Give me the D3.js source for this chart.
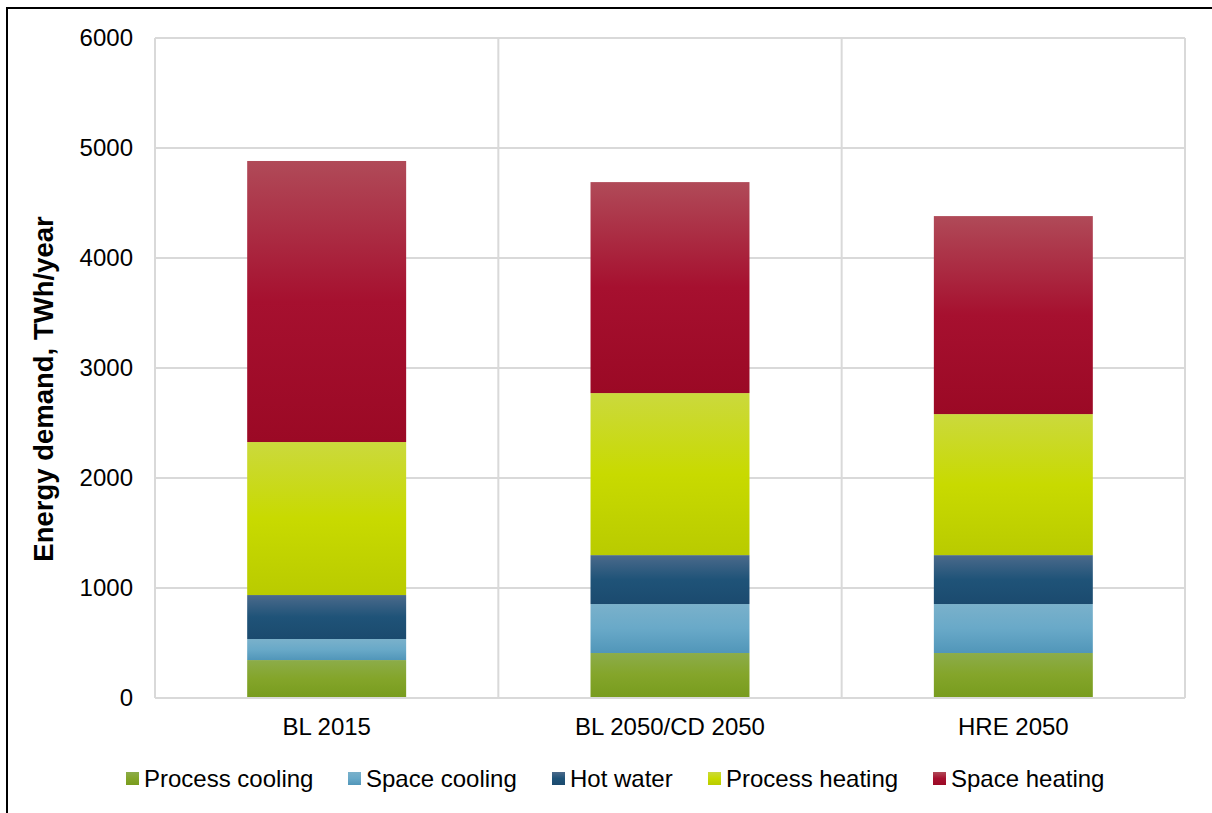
<!DOCTYPE html>
<html>
<head>
<meta charset="utf-8">
<script src="https://cdn.jsdelivr.net/npm/d3@7"></script>
<style>
html,body{margin:0;padding:0;background:#fff;}
svg{display:block;font-family:"Liberation Sans",Arial,sans-serif;}
</style>
</head>
<body>
<svg id="chart" width="1212" height="813"></svg>
<script>
const categories = ["BL 2015", "BL 2050/CD 2050", "HRE 2050"];
const seriesNames = ["Process cooling", "Space cooling", "Hot water", "Process heating", "Space heating"];
const processCooling = [345, 409, 409];
const spaceCooling   = [191, 445, 445];
const hotWater       = [400, 445, 445];
const processHeating = [1391, 1473, 1282];
const spaceHeating   = [2555, 1918, 1800];
const yTicks = [0, 1000, 2000, 3000, 4000, 5000, 6000];
const yTitle = "Energy demand, TWh/year";

const gradStops = [
  ["#8cac4a", "#84a52a", "#789c1e"],
  ["#7ab1cb", "#69a9c8", "#5196b9"],
  ["#4b6a8b", "#1f5378", "#1b4a6e"],
  ["#cbd93d", "#c8da00", "#b9cb00"],
  ["#b04a58", "#a6102f", "#9b0925"]
];

(function () {
const seriesValues = [processCooling, spaceCooling, hotWater, processHeating, spaceHeating];
const rows = categories.map((c, i) => {
  const r = {cat: c};
  seriesNames.forEach((s, j) => r[s] = seriesValues[j][i]);
  return r;
});

const svg = d3.select("#chart");
const pLeft = 155, pRight = 1185, pTop = 38, pBottom = 698;

// outer frame
svg.append("rect").attr("x", 7).attr("y", 8).attr("width", 1230).attr("height", 830)
  .attr("fill", "none").attr("stroke", "#000").attr("stroke-width", 2);

const defs = svg.append("defs");
gradStops.forEach((g, i) => {
  const lg = defs.append("linearGradient").attr("id", "g" + i)
    .attr("x1", 0).attr("y1", 0).attr("x2", 0).attr("y2", 1);
  lg.append("stop").attr("offset", "0%").attr("stop-color", g[0]);
  lg.append("stop").attr("offset", "50%").attr("stop-color", g[1]);
  lg.append("stop").attr("offset", "100%").attr("stop-color", g[2]);
});

const x = d3.scaleBand().domain(categories).range([pLeft, pRight]).paddingInner(0.537).paddingOuter(0.2685);
const y = d3.scaleLinear().domain([0, 6000]).range([pBottom, pTop]);

// gridlines
svg.append("g").selectAll("line").data(yTicks).join("line")
  .attr("x1", pLeft).attr("x2", pRight)
  .attr("y1", d => y(d)).attr("y2", d => y(d))
  .attr("stroke", "#d9d9d9").attr("stroke-width", 2);
const step = x.step();
const vlines = [0, 1, 2, 3].map(i => pLeft + i * step);
svg.append("g").selectAll("line").data(vlines).join("line")
  .attr("x1", d => d).attr("x2", d => d)
  .attr("y1", pTop).attr("y2", pBottom)
  .attr("stroke", "#d9d9d9").attr("stroke-width", 2);

// bars
const stack = d3.stack().keys(seriesNames)(rows);
svg.append("g").selectAll("g").data(stack).join("g")
  .attr("fill", (d, i) => `url(#g${i})`)
  .selectAll("rect").data(d => d).join("rect")
  .attr("x", d => x(d.data.cat))
  .attr("width", x.bandwidth())
  .attr("y", d => y(d[1]))
  .attr("height", d => y(d[0]) - y(d[1]) - (d[0] === 0 ? 1 : 0));

// y axis labels
const yAxis = d3.axisLeft(y).tickValues(yTicks).tickFormat(d3.format("d")).tickSize(0).tickPadding(22);
const ya = svg.append("g").attr("transform", `translate(${pLeft},0)`).call(yAxis);
ya.select(".domain").remove();
ya.selectAll("text").attr("font-size", 24).attr("fill", "#000")
  .attr("font-family", "Liberation Sans, Arial, sans-serif");

// x axis labels
const xAxis = d3.axisBottom(x).tickSize(0).tickPadding(20);
const xa = svg.append("g").attr("transform", `translate(0,${pBottom})`).call(xAxis);
xa.select(".domain").remove();
xa.selectAll("text").attr("font-size", 24).attr("fill", "#000")
  .attr("font-family", "Liberation Sans, Arial, sans-serif");

// y title
svg.append("text").attr("transform", "translate(53,389) rotate(-90)")
  .attr("text-anchor", "middle").attr("font-size", 27.5).attr("font-weight", "bold")
  .text(yTitle);

// legend
const legendX = [126, 348, 552, 708, 933];
const lgd = svg.append("g");
seriesNames.forEach((s, i) => {
  lgd.append("rect").attr("x", legendX[i]).attr("y", 772).attr("width", 13).attr("height", 13)
    .attr("fill", `url(#g${i})`);
  lgd.append("text").attr("x", legendX[i] + 18).attr("y", 787).attr("font-size", 24)
    .attr("fill", "#000").text(s);
});
})();
</script>
</body>
</html>
